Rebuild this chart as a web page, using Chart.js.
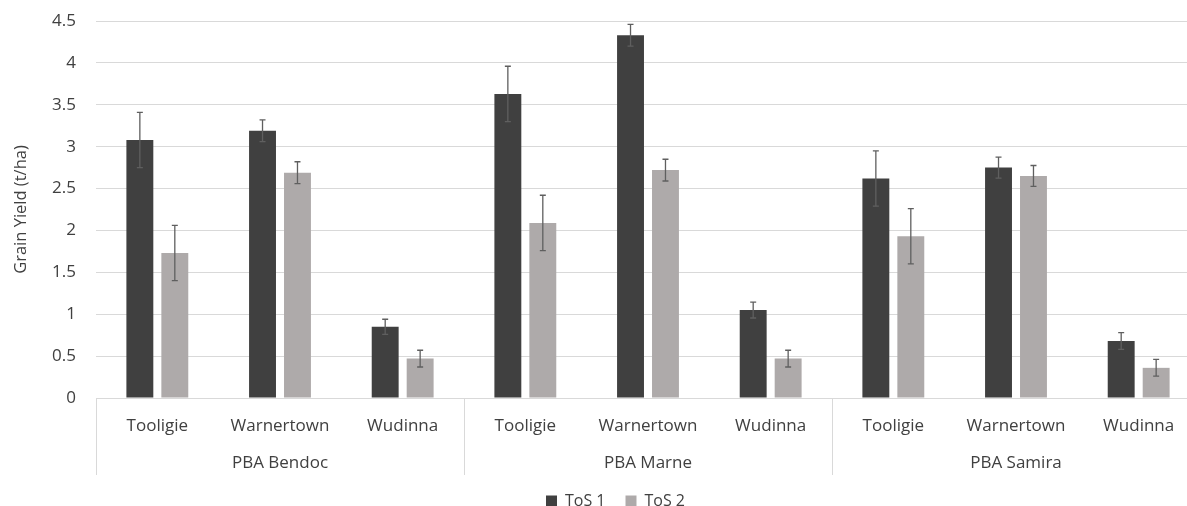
<!DOCTYPE html>
<html>
<head>
<meta charset="utf-8">
<script src="https://cdn.jsdelivr.net/npm/chart.js@4/dist/chart.umd.min.js"></script>
<style>
  html, body { margin: 0; padding: 0; background: #fff; overflow: hidden; }
  #wrap { width: 1200px; height: 506px; }
</style>
</head>
<body>
<div id="wrap"><canvas id="bar_chart"></canvas></div>
<script>
// sites repeated for each variety
const sites = ['Tooligie', 'Warnertown', 'Wudinna', 'Tooligie', 'Warnertown', 'Wudinna', 'Tooligie', 'Warnertown', 'Wudinna'];
const varieties = ['PBA Bendoc', 'PBA Marne', 'PBA Samira'];
const seriesNames = ['ToS 1', 'ToS 2'];

const tos1 = [3.08, 3.19, 0.85, 3.63, 4.33, 1.05, 2.62, 2.75, 0.68];
const tos1Err = [0.33, 0.13, 0.09, 0.33, 0.13, 0.095, 0.33, 0.125, 0.1];
const tos2 = [1.73, 2.69, 0.47, 2.09, 2.72, 0.47, 1.93, 2.65, 0.36];
const tos2Err = [0.33, 0.13, 0.1, 0.33, 0.13, 0.1, 0.33, 0.125, 0.1];

const yTicks = [0, 0.5, 1, 1.5, 2, 2.5, 3, 3.5, 4, 4.5];

const textColor = '#404040';
const lineColor = '#d9d9d9';
const fontFam = "'Open Sans', sans-serif";

// draws the +/- error bars on top of the bars
const errorBars = {
    id: 'errorBars',
    afterDatasetsDraw(chart) {
        const ctx = chart.ctx;
        const y = chart.scales.y;
        ctx.save();
        ctx.strokeStyle = '#5f5f5f';
        ctx.lineWidth = 1.3;
        chart.data.datasets.forEach((ds, i) => {
            const meta = chart.getDatasetMeta(i);
            meta.data.forEach((bar, j) => {
                const v = ds.data[j];
                const e = ds.errors[j];
                const top = y.getPixelForValue(v + e);
                const bot = y.getPixelForValue(v - e);
                ctx.beginPath();
                ctx.moveTo(bar.x, top); ctx.lineTo(bar.x, bot);
                ctx.moveTo(bar.x - 3, top); ctx.lineTo(bar.x + 3, top);
                ctx.moveTo(bar.x - 3, bot); ctx.lineTo(bar.x + 3, bot);
                ctx.stroke();
            });
        });
        ctx.restore();
    }
};

// vertical separators between the variety groups
const groupLines = {
    id: 'groupLines',
    afterDraw(chart) {
        const ctx = chart.ctx;
        const x = chart.scales.x;
        const catW = x.width / sites.length;
        ctx.save();
        ctx.strokeStyle = lineColor;
        ctx.lineWidth = 1;
        for (let i = 0; i <= varieties.length; i++) {
            const px = Math.round(x.left + i * 3 * catW) + 0.5;
            ctx.beginPath();
            ctx.moveTo(px, chart.chartArea.bottom);
            ctx.lineTo(px, x.bottom + 27);
            ctx.stroke();
        }
        ctx.restore();
    }
};

new Chart(document.getElementById('bar_chart').getContext('2d'), {
    type: 'bar',
    data: {
        labels: sites,
        datasets: [{
            label: seriesNames[0],
            data: tos1,
            errors: tos1Err,
            backgroundColor: '#404040',
            categoryPercentage: 0.57,
            barPercentage: 0.77
        }, {
            label: seriesNames[1],
            data: tos2,
            errors: tos2Err,
            backgroundColor: '#aeaaaa',
            categoryPercentage: 0.57,
            barPercentage: 0.77
        }]
    },
    options: {
        responsive: true,
        maintainAspectRatio: false,
        animation: false,
        layout: { padding: { top: 21, left: 31, right: 0, bottom: -13 } },
        plugins: {
            legend: {
                position: 'bottom',
                labels: {
                    boxWidth: 11,
                    boxHeight: 11,
                    padding: 20,
                    color: textColor,
                    font: { family: fontFam, size: 16 }
                }
            },
            tooltip: { enabled: false }
        },
        scales: {
            y: {
                min: 0,
                max: 4.5,
                afterBuildTicks(scale) { scale.ticks = yTicks.map(v => ({ value: v })); },
                afterFit(scale) {
                    scale.width = 65;
                    scale.paddingTop = 10;
                    scale.paddingBottom = 10;
                },
                border: { display: false },
                grid: { color: lineColor, lineWidth: 1, drawTicks: false },
                ticks: {
                    padding: 20,
                    color: textColor,
                    font: { family: fontFam, size: 17 },
                    callback: v => String(v)
                },
                title: {
                    display: true,
                    text: 'Grain Yield (t/ha)',
                    color: textColor,
                    font: { family: fontFam, size: 16.5 },
                    padding: { top: -20, bottom: 0 }
                }
            },
            x: {
                afterFit(scale) { scale.height = 50; },
                border: { display: true, color: lineColor },
                grid: { display: false },
                ticks: {
                    padding: 10,
                    maxRotation: 0,
                    autoSkip: false,
                    color: textColor,
                    font: { family: fontFam, size: 17 }
                }
            },
            x2: {
                type: 'category',
                position: 'bottom',
                labels: varieties,
                offset: true,
                afterFit(scale) { scale.height = 25; },
                border: { display: false },
                grid: { display: false, drawTicks: false },
                ticks: {
                    padding: 5,
                    maxRotation: 0,
                    color: textColor,
                    font: { family: fontFam, size: 17 }
                }
            }
        }
    },
    plugins: [errorBars, groupLines]
});
</script>
</body>
</html>
